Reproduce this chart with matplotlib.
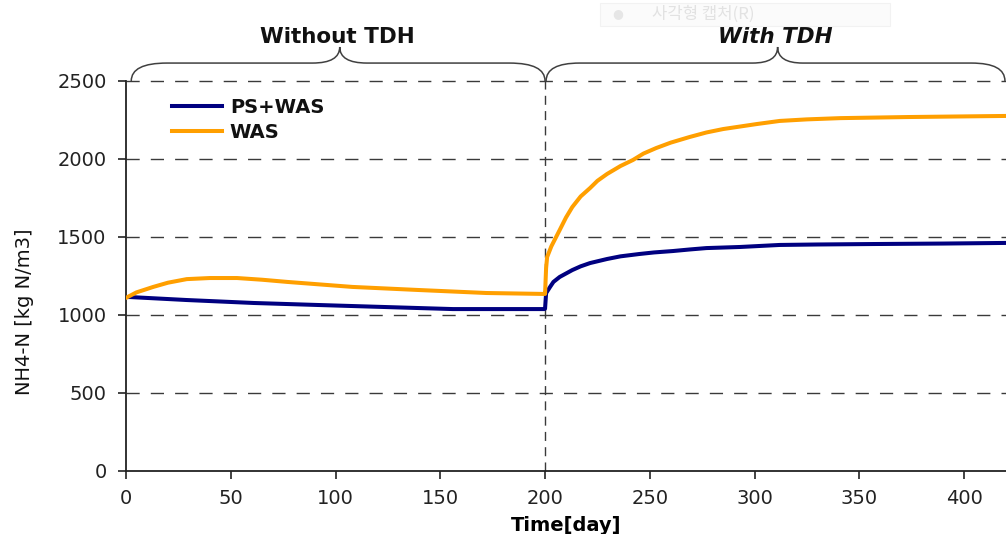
import matplotlib
matplotlib.use("Agg")
import matplotlib.pyplot as plt
from matplotlib.path import Path
from matplotlib.patches import PathPatch, Rectangle

plt.rcParams['font.family'] = ['DejaVu Sans', 'Noto Sans CJK KR']
plt.rcParams['lines.scale_dashes'] = False

# ---------------- data ----------------
days_ps = [0, 2, 29, 61, 92, 124, 156, 199.5, 200, 200.5, 202.4, 204, 207, 213, 217, 221.5,
           229.6, 236, 245, 252, 261, 269, 277, 293, 312, 330, 357, 390, 420]
ps_was = [1115, 1115, 1096, 1077, 1064, 1051, 1038, 1038, 1040, 1140, 1180, 1212, 1244, 1288,
          1312, 1333, 1359, 1376, 1391, 1401, 1410, 1420, 1429, 1436, 1449, 1452, 1455, 1458, 1462]

days_was = [0, 5, 13, 20, 29, 40, 53, 65, 77, 108, 140, 172, 199.5, 200, 200.5, 201, 203, 207,
            210, 213, 217, 221.5, 225, 229.6, 236, 242, 247, 253, 260, 269, 277, 285, 301,
            312, 325, 341, 373, 420]
was = [1110, 1145, 1180, 1207, 1230, 1237, 1237, 1226, 1212, 1180, 1160, 1141, 1135, 1135, 1300,
       1372, 1440, 1545, 1625, 1692, 1760, 1814, 1860, 1904, 1955, 1994, 2035, 2070, 2105,
       2141, 2170, 2192, 2224, 2244, 2254, 2262, 2269, 2276]

series_labels = ['PS+WAS', 'WAS']
series_colors = ['#000080', '#FF9F00']
x_ticks = [0, 50, 100, 150, 200, 250, 300, 350, 400]
y_ticks = [0, 500, 1000, 1500, 2000, 2500]
phase_labels = ['Without TDH', 'With TDH']
phase_split = 200

# ---------------- figure ----------------
W, H = 1006, 534
fig = plt.figure(figsize=(W / 100, H / 100), dpi=100)
ax = fig.add_axes([126 / W, 1 - 471 / H, (W - 126) / W, (471 - 81) / H])
ax.set_xlim(0, 420)
ax.set_ylim(0, 2500)

# dashed grid lines
for yv in y_ticks[1:]:
    ax.plot([0, 420], [yv, yv], color='#3a3a3a', lw=1.0, linestyle=(0, (9.5, 8)),
            clip_on=False, zorder=1)
# phase divider
ax.plot([phase_split, phase_split], [0, 2535], color='#3a3a3a', lw=1.0,
        linestyle=(0, (6.5, 4.5)), clip_on=False, zorder=1)

ax.plot(days_ps, ps_was, color=series_colors[0], lw=2.9, label=series_labels[0],
        zorder=3, solid_joinstyle='round')
ax.plot(days_was, was, color=series_colors[1], lw=2.9, label=series_labels[1],
        zorder=3, solid_joinstyle='round')

ax.set_xticks(x_ticks)
ax.set_yticks(y_ticks)
ax.tick_params(axis='both', direction='out', length=6, width=1.2, color='#222222',
               labelsize=14, labelcolor='#222222')
ax.tick_params(axis='y', pad=8)
ax.tick_params(axis='x', pad=7)
for s in ['top', 'right']:
    ax.spines[s].set_visible(False)
for s in ['left', 'bottom']:
    ax.spines[s].set_linewidth(1.3)
    ax.spines[s].set_color('#222222')

ax.set_xlabel('Time[day]', fontsize=14, fontweight='bold', labelpad=6)
fig.text(25 / W, 1 - 312 / H, 'NH4-N [kg N/m3]', rotation=90, fontsize=14,
         ha='center', va='center', color='#111111')

leg = ax.legend(loc='upper left', bbox_to_anchor=(172 / W, 1 - 98 / H),
                bbox_transform=fig.transFigure, frameon=False, borderpad=0,
                borderaxespad=0, handlelength=2.55, handletextpad=0.42,
                labelspacing=0.3, prop={'size': 14, 'weight': 'bold'})
for t in leg.get_texts():
    t.set_color('#111111')


# ---------------- braces ----------------
def brace(x0, x1, xm, wend, wmid, y0, y1, y2):
    verts = [(x0, y0), (x0, y1), (x0 + wend, y1),
             (xm - wmid, y1), (xm, y1), (xm, y2),
             (xm, y1), (xm + wmid, y1),
             (x1 - wend, y1), (x1, y1), (x1, y0)]
    codes = [Path.MOVETO, Path.CURVE3, Path.CURVE3,
             Path.LINETO, Path.CURVE3, Path.CURVE3,
             Path.CURVE3, Path.CURVE3,
             Path.LINETO, Path.CURVE3, Path.CURVE3]
    p = PathPatch(Path(verts, codes), facecolor='none', edgecolor='#404040',
                  lw=1.1, clip_on=False, zorder=2)
    ax.add_patch(p)


brace(2.5, 200, 102, 17, 13, 2500, 2615, 2718)
brace(200.5, 419.5, 311, 16, 12, 2500, 2615, 2718)

ax.text(101, 2785, phase_labels[0], ha='center', va='center', fontsize=15.5,
        fontweight='bold', color='#111111', clip_on=False)
ax.text(310, 2785, phase_labels[1], ha='center', va='center', fontsize=15.5,
        fontweight='bold', fontstyle='italic', color='#111111', clip_on=False)

# faint screen-capture artefact at the top
fig.patches.append(Rectangle((600 / W, 1 - 26 / H), 290 / W, 23 / H,
                             transform=fig.transFigure, facecolor='#fbfbfb',
                             edgecolor='#f2f2f2', lw=0.8, zorder=0))
fig.text(618 / W, 1 - 14 / H, '●', fontsize=9, color='#e6e6e6', ha='center', va='center')
fig.text(652 / W, 1 - 14 / H, '사각형 캡처(R)', fontsize=12, color='#e2e2e2',
         ha='left', va='center', family=['Noto Sans CJK KR', 'DejaVu Sans'])

fig.savefig('out.png', dpi=100)
